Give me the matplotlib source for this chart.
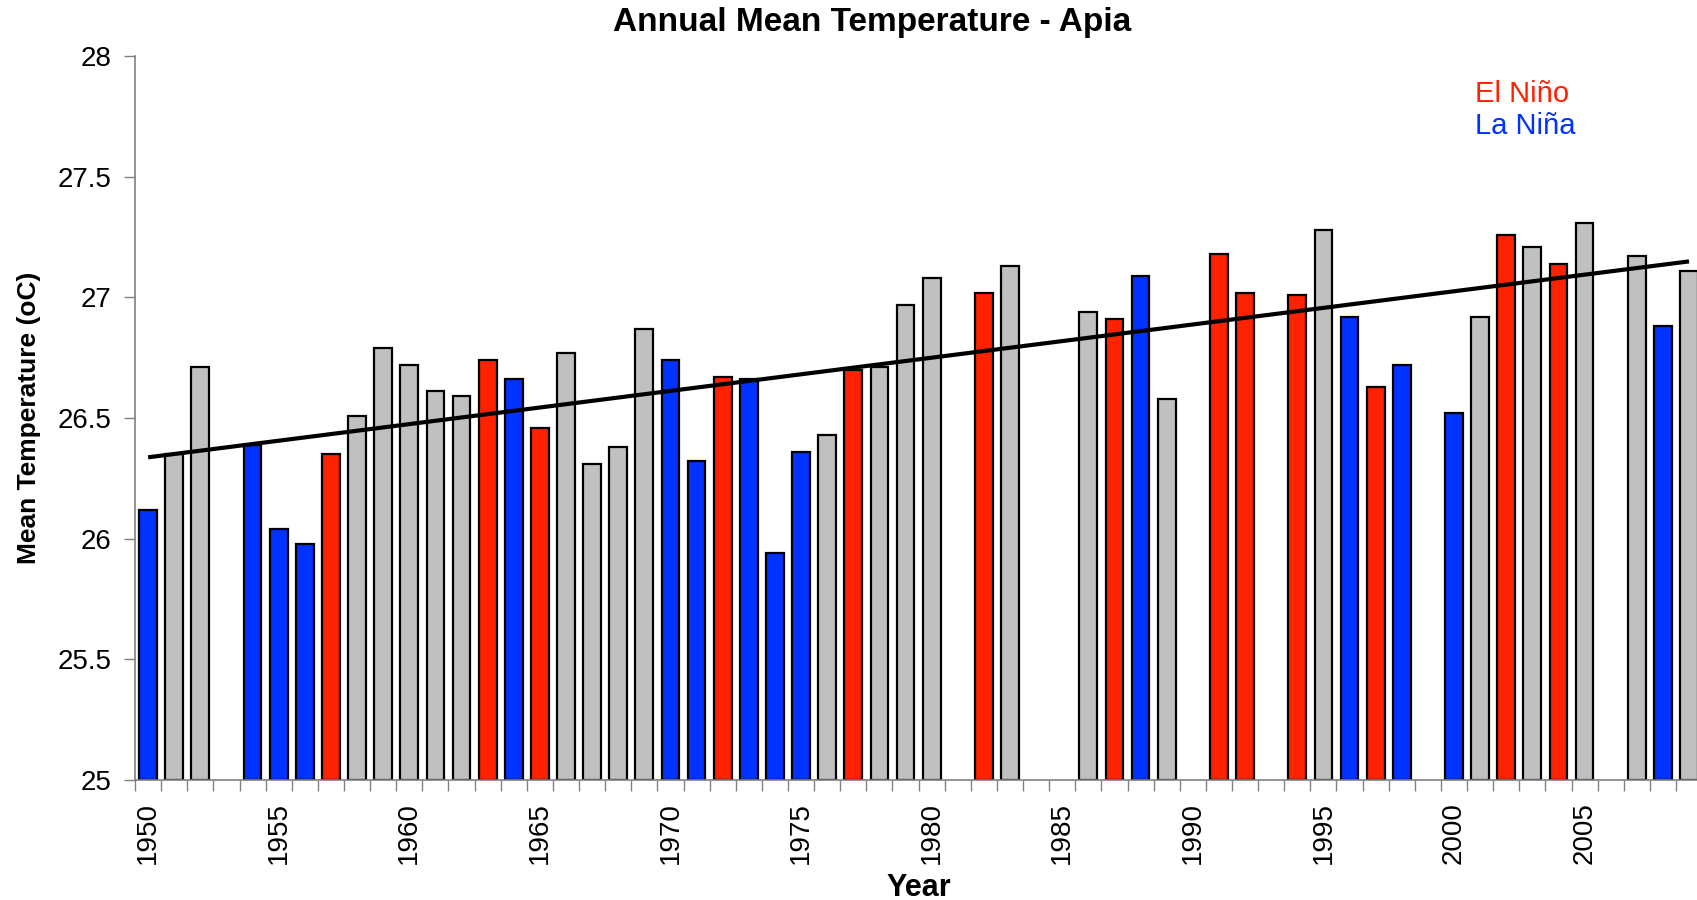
import numpy as np
import matplotlib
matplotlib.use("Agg")
import matplotlib.pyplot as plt
from matplotlib.ticker import FuncFormatter, MultipleLocator

plt.rcParams['font.family'] = ['Liberation Sans', 'DejaVu Sans']

# Annual mean temperature at Apia (oC); NaN where no annual value exists
years = list(range(1950, 2010))
temps = [26.12, 26.35, 26.71, np.nan, 26.39, 26.04, 25.98, 26.35, 26.51, 26.79,
         26.72, 26.61, 26.59, 26.74, 26.66, 26.46, 26.77, 26.31, 26.38, 26.87,
         26.74, 26.32, 26.67, 26.66, 25.94, 26.36, 26.43, 26.70, 26.71, 26.97,
         27.08, np.nan, 27.02, 27.13, np.nan, np.nan, 26.94, 26.91, 27.09, 26.58,
         np.nan, 27.18, 27.02, np.nan, 27.01, 27.28, 26.92, 26.63, 26.72, np.nan,
         26.52, 26.92, 27.26, 27.21, 27.14, 27.31, np.nan, 27.17, 26.88, 27.11]
# ENSO phase per year: E = El Nino, L = La Nina, N = neutral, - = no data
phase = list("LNN-LLLENNNNNELENNNNLLELLLNENNN-EN--NELN-EE-ENLEL-LNENEN-NLN")

colors = {"E": "#FF2200", "L": "#0033FF", "N": "#C0C0C0", "-": "white"}

fig = plt.figure(figsize=(16.97, 9.0), dpi=100)
ax = fig.add_axes([0.0796, 0.1333, 0.9234, 0.8045])

x = np.arange(len(years))
vals = np.array(temps)
base = 25.0
ax.bar(x, vals - base, bottom=base, width=0.68,
       color=[colors[p] for p in phase], edgecolor="black", linewidth=1.6, zorder=2)

# linear trend through the available years
ok = ~np.isnan(vals)
coef = np.polyfit(np.array(years)[ok], vals[ok], 1)
ax.plot([x[0], x[-1]], np.polyval(coef, [years[0], years[-1]]),
        color="black", linewidth=3, zorder=3, solid_capstyle="butt")

ax.set_xlim(-0.5, len(years) - 0.5)
ax.set_ylim(25, 28)
ax.yaxis.set_major_locator(MultipleLocator(0.5))
ax.yaxis.set_major_formatter(FuncFormatter(lambda v, p: f"{v:g}"))

ax.set_xticks(x[::5])
ax.set_xticklabels([str(y) for y in years[::5]], rotation=90)
ax.set_xticks(np.arange(-0.5, len(years), 1), minor=True)
ax.tick_params(axis="x", which="major", length=0, pad=16, labelsize=20)
ax.tick_params(axis="x", which="minor", length=8, width=1, color="#808080")
ax.tick_params(axis="y", length=8, width=1, color="#808080", pad=9, labelsize=20)

for s in ("top", "right"):
    ax.spines[s].set_visible(False)
for s in ("left", "bottom"):
    ax.spines[s].set_color("#808080")
    ax.spines[s].set_linewidth(1.2)

ax.set_ylabel("Mean Temperature (oC)", fontsize=19, fontweight="bold")
ax.yaxis.set_label_coords(-0.060, 0.5)
ax.set_xlabel("Year", fontsize=22, fontweight="bold")
ax.xaxis.set_label_coords(0.5, -0.128)

fig.text(0.514, 0.975, "Annual Mean Temperature - Apia", ha="center", va="center",
         fontsize=24, fontweight="bold")
fig.text(0.869, 0.896, "El Niño", color="#FF2200", fontsize=21, va="center")
fig.text(0.869, 0.860, "La Niña", color="#0033FF", fontsize=21, va="center")

fig.savefig("out.png", dpi=100)
